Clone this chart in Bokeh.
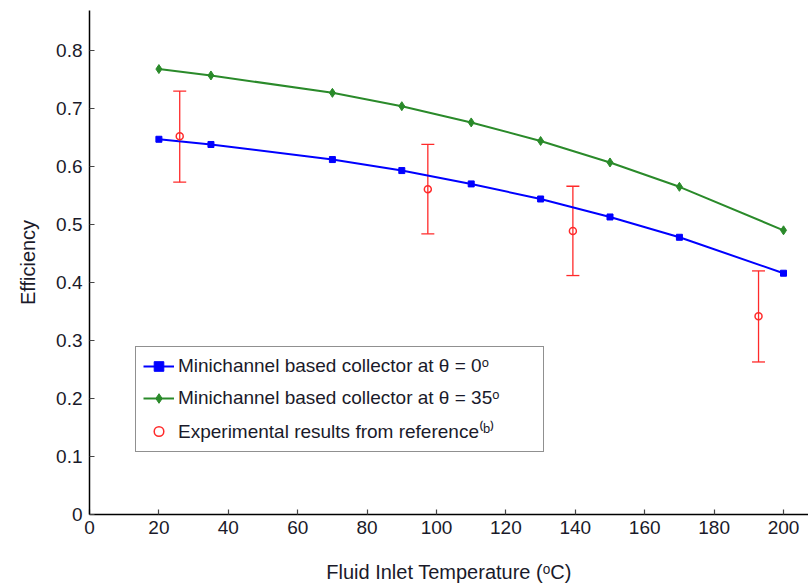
from bokeh.plotting import figure
from bokeh.models import (ColumnDataSource, Whisker, TeeHead, Legend, LegendItem,
                          FixedTicker, Range1d)
from bokeh.embed import file_html
from bokeh.resources import INLINE

# ---- data ----
temps = [20, 35, 70, 90, 110, 130, 150, 170, 200]
eff_theta0 = [0.647, 0.638, 0.612, 0.593, 0.570, 0.544, 0.513, 0.478, 0.416]
eff_theta35 = [0.768, 0.757, 0.727, 0.704, 0.676, 0.644, 0.607, 0.565, 0.490]
exp_temps = [26, 97.5, 139.3, 192.8]
exp_eff = [0.652, 0.561, 0.489, 0.342]
exp_upper = [0.730, 0.638, 0.566, 0.420]
exp_lower = [0.573, 0.484, 0.412, 0.263]
x_ticks = [0, 20, 40, 60, 80, 100, 120, 140, 160, 180, 200]
y_ticks = [0, 0.1, 0.2, 0.3, 0.4, 0.5, 0.6, 0.7, 0.8]

FONT = "Liberation Sans"
TXT = "#1a1a2a"

p = figure(width=808, height=587, output_backend="svg", toolbar_location=None,
           x_range=Range1d(0, 207.2), y_range=Range1d(0, 0.869),
           min_border_left=89, min_border_right=0, min_border_top=10,
           min_border_bottom=73)
p.outline_line_color = None
p.xgrid.visible = False
p.ygrid.visible = False
p.background_fill_color = "white"
p.border_fill_color = "white"

for ax in (p.xaxis[0], p.yaxis[0]):
    ax.axis_line_color = "black"
    ax.axis_line_width = 1.5
    ax.major_tick_in = 5
    ax.major_tick_out = 0
    ax.major_tick_line_color = "#444444"
    ax.major_tick_line_width = 1.2
    ax.minor_tick_line_color = None
    ax.major_label_text_font = FONT
    ax.major_label_text_font_size = "19px"
    ax.major_label_text_color = TXT
    ax.major_label_standoff = 6
    ax.axis_label_text_font = FONT
    ax.axis_label_text_font_size = "20px"
    ax.axis_label_text_font_style = "normal"
    ax.axis_label_text_color = TXT

p.xaxis.ticker = FixedTicker(ticks=x_ticks)
p.yaxis.ticker = FixedTicker(ticks=y_ticks)
p.yaxis.major_label_overrides = {0: "0"}
p.yaxis.major_label_standoff = 7
p.xaxis.axis_label = "Fluid Inlet Temperature (\u1d52C)"
p.xaxis.axis_label_standoff = 24
p.yaxis.axis_label = "Efficiency"
p.yaxis.axis_label_standoff = 14

src0 = ColumnDataSource(dict(x=temps, y=eff_theta0))
src35 = ColumnDataSource(dict(x=temps, y=eff_theta35))
srcexp = ColumnDataSource(dict(x=exp_temps, y=exp_eff, upper=exp_upper, lower=exp_lower))

blue = "#0000ff"
green = "#2a8a2a"
red = "#ff2a2a"

l0 = p.line("x", "y", source=src0, line_color=blue, line_width=2)
m0 = p.scatter("x", "y", source=src0, marker="square", size=6,
               fill_color=blue, line_color=blue)
l35 = p.line("x", "y", source=src35, line_color=green, line_width=2)
m35 = p.scatter("x", "y", source=src35, marker="diamond", size=9,
                fill_color=green, line_color=green)

wh = Whisker(source=srcexp, base="x", upper="upper", lower="lower",
             line_color=red, line_width=1.3,
             upper_head=TeeHead(size=13, line_color=red, line_width=1.3),
             lower_head=TeeHead(size=13, line_color=red, line_width=1.3))
p.add_layout(wh)
mexp = p.scatter("x", "y", source=srcexp, marker="circle", size=7,
                 fill_color=None, line_color=red, line_width=1.5)

legend = Legend(items=[
    LegendItem(label="Minichannel based collector at \u03b8 = 0\u1d52", renderers=[l0, m0]),
    LegendItem(label="Minichannel based collector at \u03b8 = 35\u1d52", renderers=[l35, m35]),
    LegendItem(label="Experimental results from reference\u207d\u1d47\u207e", renderers=[mexp]),
], location=(46, 62))
legend.label_text_font = FONT
legend.label_text_font_size = "19px"
legend.label_text_color = TXT
legend.border_line_color = "#222222"
legend.border_line_width = 1.5
legend.background_fill_alpha = 1
legend.padding = 7
legend.spacing = 8
legend.label_height = 24
legend.glyph_height = 24
legend.glyph_width = 31
legend.label_width = 358
legend.label_standoff = 4
legend.margin = 0
p.add_layout(legend)

open("out.html", "w").write(file_html(p, INLINE))
